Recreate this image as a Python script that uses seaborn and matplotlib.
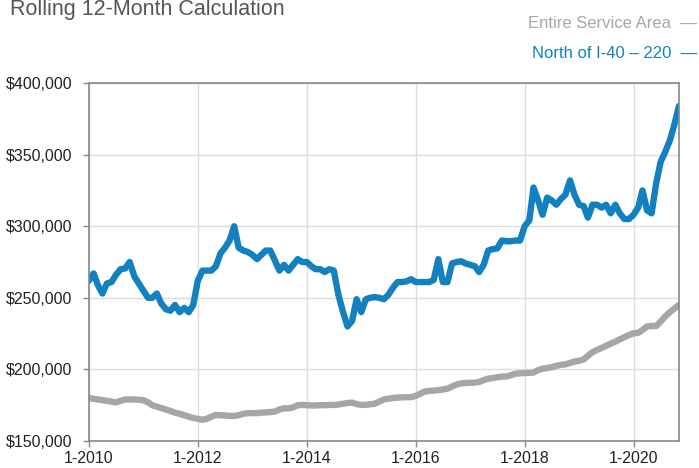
import pandas as pd
import matplotlib
matplotlib.use("Agg")
import matplotlib.pyplot as plt
import matplotlib.ticker as mticker
import seaborn as sns

# monthly values, 1-2010 .. 11-2020
start_month = "2010-01"
n_months = 131

north_i40 = [
    262000, 267000, 259000, 253000, 260000, 261000, 266000, 270000, 270500, 275000,
    265000, 260000, 255000, 250000, 250000, 253000, 246000, 242000, 241000, 245000,
    240000, 243000, 240000, 245000, 262000, 269000, 269000, 269000, 272000, 281000,
    285000, 290000, 300000, 285000, 283000, 282000, 280000, 277000, 280000, 283000,
    283000, 276000, 269000, 273000, 269000, 273000, 277000, 275000, 275000, 272000,
    270000, 270000, 268000, 270000, 269000, 252000, 240000, 230000, 234000, 249000,
    240000, 249000, 250000, 250500, 250000, 249000, 252000, 257000, 261000, 261000,
    261500, 263000, 261000, 261000, 261000, 261000, 262500, 277000, 261000, 261000,
    274000, 275000, 275500, 274000, 273000, 272000, 268000, 273000, 283000, 284000,
    284500, 290000, 289500, 289500, 290000, 290000, 300000, 304000, 327000, 318000,
    308000, 320000, 318000, 315000, 319000, 322000, 332000, 322000, 315000, 314000,
    306000, 315000, 315000, 313000, 315000, 309000, 315000, 309000, 305000, 305000,
    308000, 313000, 325000, 311000, 309000, 330000, 345000, 352000, 360000, 371000,
    384000,
]

entire_area = [
    180000, 179500, 179000, 178500, 178000, 177500, 177000, 178000, 179000, 179000,
    179000, 178800, 178500, 177000, 175000, 174000, 173000, 172000, 171000, 169800,
    169000, 168000, 167000, 166000, 165500, 164800, 165500, 167000, 168200, 168000,
    167800, 167500, 167500, 168000, 169000, 169400, 169500, 169500, 169800, 170000,
    170200, 170500, 172000, 172800, 172800, 173500, 175000, 175200, 175000, 174800,
    174800, 175000, 175000, 175200, 175200, 175500, 176000, 176500, 176800, 175800,
    175200, 175300, 175600, 176000, 177500, 179000, 179500, 180000, 180300, 180500,
    180600, 180600, 181500, 183000, 184500, 185000, 185200, 185500, 186000, 186500,
    188000, 189500, 190200, 190500, 190700, 190800, 191200, 192500, 193500, 194000,
    194500, 195000, 195000, 196000, 197000, 197300, 197500, 197600, 197800, 199500,
    200500, 201000, 201500, 202500, 203200, 203500, 204500, 205500, 206000, 207000,
    209500, 212000, 213600, 215000, 216500, 218000, 219400, 221000, 222500, 224000,
    225200, 225500, 227500, 230000, 230300, 230300, 233500, 237000, 240000, 242500,
    245000,
]

tick_years = [2010, 2012, 2014, 2016, 2018, 2020]
y_ticks = [150000, 200000, 250000, 300000, 350000, 400000]

BLUE = "#1380c0"
GRAY = "#a6a6a6"

dates = pd.date_range(start_month, periods=n_months, freq="MS")
df = pd.DataFrame({
    "date": list(dates) * 2,
    "price": entire_area + north_i40,
    "area": ["Entire Service Area"] * n_months + ["North of I-40 – 220"] * n_months,
})

sns.set_style("white")
plt.rcParams["font.family"] = ["Liberation Sans", "DejaVu Sans"]

fig = plt.figure(figsize=(6.99, 4.68), dpi=100)
ax = fig.add_axes([0.1273, 0.0577, 0.8441, 0.7649])

sns.lineplot(data=df, x="date", y="price", hue="area",
             palette={"Entire Service Area": GRAY, "North of I-40 – 220": BLUE},
             linewidth=4.6, legend=False, ax=ax, solid_capstyle="round")

ax.set_xlim(dates[0], dates[-1])
ax.set_ylim(150000, 400000)
ax.set_xticks([pd.Timestamp(f"{y}-01-01") for y in tick_years])
ax.set_xticklabels([f"1-{y}" for y in tick_years])
ax.set_yticks(y_ticks)
ax.yaxis.set_major_formatter(mticker.FuncFormatter(lambda v, p: f"${v:,.0f}"))
ax.set_xlabel("")
ax.set_ylabel("")

ax.grid(True, color="#dddddd", linewidth=1)
ax.set_axisbelow(True)
for s in ax.spines.values():
    s.set_visible(True)
    s.set_color("#888888")
    s.set_linewidth(1.2)
ax.tick_params(axis="both", which="major", length=4, width=1, color="#888888",
               labelsize=11.5, labelcolor="#222222", direction="out",
               bottom=True, left=True)
ax.tick_params(axis="y", pad=8)
ax.tick_params(axis="x", pad=3)

fig.text(0.014, 0.968, "Rolling 12-Month Calculation", fontsize=15.5,
         color="#555555", va="baseline", ha="left")
fig.text(0.997, 0.940, "Entire Service Area  —", fontsize=12, color=GRAY,
         va="baseline", ha="right")
fig.text(0.997, 0.876, "North of I-40 – 220  —", fontsize=12, color=BLUE,
         va="baseline", ha="right")

fig.savefig("out.png", dpi=100)
